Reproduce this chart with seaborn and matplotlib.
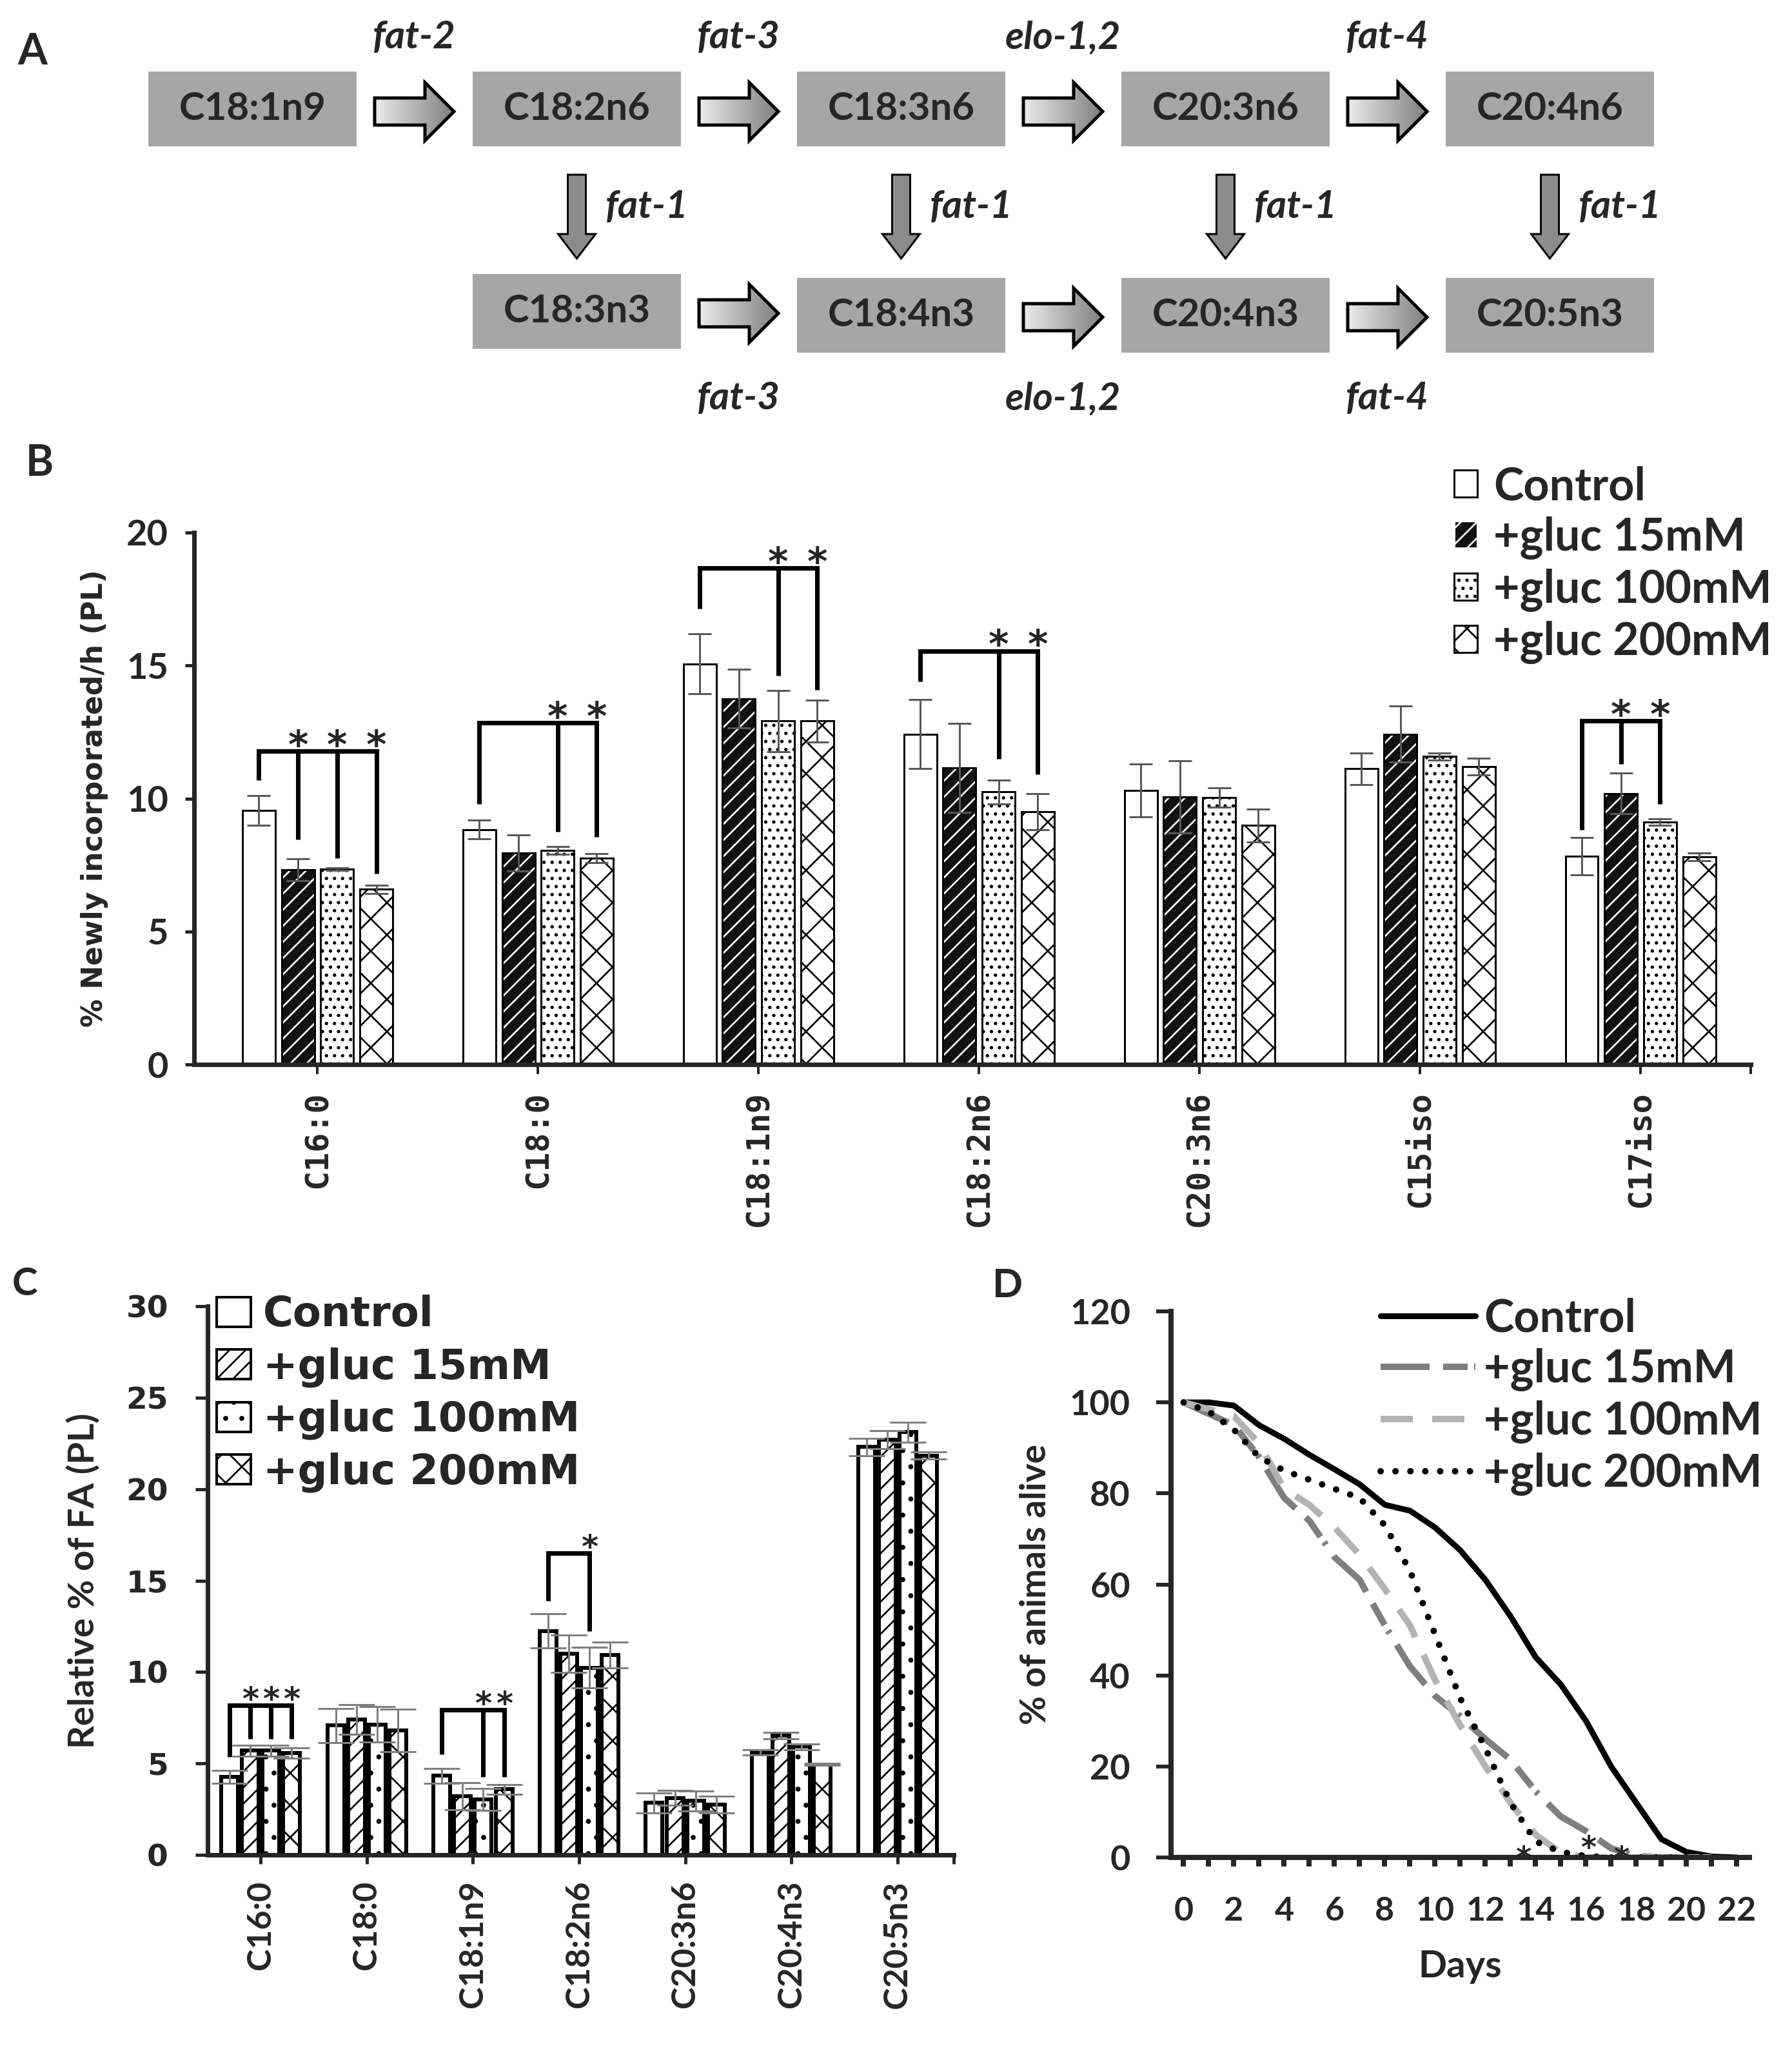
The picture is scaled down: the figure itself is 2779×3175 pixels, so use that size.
import numpy as np
import pandas as pd
import matplotlib
matplotlib.use('Agg')
import matplotlib.pyplot as plt
import seaborn as sns
from matplotlib.patches import Rectangle, Polygon, Patch
from matplotlib.lines import Line2D
from matplotlib.transforms import offset_copy

# ---------------- data ----------------
# Panel A: pathway
omega6 = ['C18:1n9', 'C18:2n6', 'C18:3n6', 'C20:3n6', 'C20:4n6']
omega3 = ['C18:3n3', 'C18:4n3', 'C20:4n3', 'C20:5n3']
enz_top = ['fat-2', 'fat-3', 'elo-1,2', 'fat-4']
enz_bottom = ['fat-3', 'elo-1,2', 'fat-4']
enz_down = 'fat-1'

conditions = ['Control', '+gluc 15mM', '+gluc 100mM', '+gluc 200mM']

# Panel B: newly incorporated FA
fa_b = ['C16:0', 'C18:0', 'C18:1n9', 'C18:2n6', 'C20:3n6', 'C15iso', 'C17iso']
b_control = [9.55, 8.83, 15.06, 12.42, 10.3, 11.12, 7.83]
b_15 = [7.32, 7.95, 13.75, 11.15, 10.07, 12.42, 10.19]
b_100 = [7.34, 8.05, 12.91, 10.25, 10.04, 11.58, 9.11]
b_200 = [6.59, 7.75, 12.91, 9.5, 8.99, 11.2, 7.8]
b_control_err = [0.55, 0.35, 1.13, 1.3, 1.0, 0.6, 0.7]
b_15_err = [0.42, 0.68, 1.1, 1.67, 1.36, 1.05, 0.76]
b_100_err = [0.05, 0.14, 1.15, 0.45, 0.37, 0.13, 0.12]
b_200_err = [0.16, 0.17, 0.78, 0.67, 0.62, 0.32, 0.15]
# significance brackets: which FA, which conditions vs control, bracket height, drop ends
b_sig_fa = ['C16:0', 'C18:0', 'C18:1n9', 'C18:2n6', 'C17iso']
b_sig_cond = [[1, 2, 3], [2, 3], [2, 3], [2, 3], [1, 2]]
b_sig_top = [11.77, 12.85, 18.67, 15.55, 12.93]
b_sig_ends = [[10.69, 8.45, 7.75, 7.18], [9.79, 8.76, 8.56], [17.13, 14.63, 14.08],
              [14.4, 11.49, 10.92], [8.83, 11.3, 9.8]]

# Panel C: relative FA composition
fa_c = ['C16:0', 'C18:0', 'C18:1n9', 'C18:2n6', 'C20:3n6', 'C20:4n3', 'C20:5n3']
c_control = [4.27, 7.07, 4.32, 12.25, 2.84, 5.59, 22.3]
c_15 = [5.7, 7.4, 3.22, 11.01, 3.11, 6.52, 22.71]
c_100 = [5.7, 7.13, 3.03, 10.24, 2.95, 5.92, 23.12]
c_200 = [5.56, 6.8, 3.58, 10.93, 2.75, 4.95, 21.83]
c_control_err = [0.35, 0.93, 0.4, 0.93, 0.55, 0.14, 0.47]
c_15_err = [0.3, 0.8, 0.74, 1.02, 0.4, 0.17, 0.5]
c_100_err = [0.3, 0.97, 0.6, 1.1, 0.55, 0.16, 0.55]
c_200_err = [0.28, 1.15, 0.27, 0.69, 0.47, 0.06, 0.19]
c_sig_fa = ['C16:0', 'C18:1n9', 'C18:2n6']
c_sig_cond = [[1, 2, 3], [2, 3], [2]]
c_sig_top = [8.17, 7.93, 16.5]
c_sig_ends = [[5.37, 6.33, 6.33, 6.33], [5.5, 4.27, 4.27], [13.9, 12.25]]

# Panel D: survival
days = list(range(23))
d_control = [100, 100, 99.3, 95, 92, 88.5, 85.3, 82, 77.5, 76.2, 72.5, 67.5, 61, 53, 44, 38, 30, 20, 12, 4, 1.2, 0.2, 0]
d_15 = [100, 97.5, 95, 88, 79, 74, 66, 61, 51, 42, 35.5, 31, 26, 21.5, 14.5, 9, 5.8, 2, 0.3, 0, 0, 0, np.nan]
d_100 = [100, 98.5, 97, 91, 81, 77.5, 72.5, 66.5, 59, 51, 39, 29, 20, 12, 5, 1, 0, 0, 0, 0, 0, 0, np.nan]
d_200 = [100, 98, 94, 88, 85, 83, 81, 79, 73, 63, 49, 35, 24, 12, 3.5, 1.2, 0.3, 0, 0, 0, 0, 0, np.nan]
d_star_day = [13.5, 16.1, 17.4]
d_star_y = [1.4, 3.7, 1.4]

# ---------------- setup ----------------
sns.set_style('ticks')
plt.rcParams['font.family'] = ['Lato', 'DejaVu Sans']
plt.rcParams['font.weight'] = 'bold'
plt.rcParams['axes.labelweight'] = 'bold'
plt.rcParams['hatch.linewidth'] = 1.3

DPI = 150
W, H = 2779, 3175
STAR_FONT = ['DejaVu Sans']


def pt(px):
    # pixel size in the output image -> points
    return px * 72 / DPI


def box(l, t, r, b):
    return [l / W, 1 - b / H, (r - l) / W, (b - t) / H]


def star(ax, x, y, size_px):
    # place an asterisk so that its glyph is centred on (x, y)
    tr = offset_copy(ax.transData, fig=ax.figure, y=-pt(0.56 * size_px), units='points')
    ax.text(x, y, '*', transform=tr, ha='center', va='baseline', fontsize=pt(size_px),
            fontweight='bold', family=STAR_FONT, zorder=5)


fig = plt.figure(figsize=(W / DPI, H / DPI), dpi=DPI)

# ---------------- Panel A ----------------
axA = fig.add_axes([0, 1 - 680 / H, 1, 680 / H])
bw, bh, step, x0 = 323, 116, 503, 230
top_y = 111
bot_y = [425, 431, 431, 431]
grad = np.linspace(0.92, 0.5, 64).reshape(1, -1)


def block_arrow(xs, yc):
    pts = [(xs, yc - 21), (xs + 78, yc - 21), (xs + 78, yc - 45), (xs + 123, yc),
           (xs + 78, yc + 45), (xs + 78, yc + 21), (xs, yc + 21)]
    poly = Polygon(pts, closed=True, fc='none', ec='black', lw=pt(5), zorder=3)
    axA.add_patch(poly)
    im = axA.imshow(grad, cmap='gray', vmin=0, vmax=1, aspect='auto',
                    extent=[xs, xs + 123, yc + 45, yc - 45], zorder=2)
    im.set_clip_path(poly)


for i, name in enumerate(omega6):
    axA.add_patch(Rectangle((x0 + i * step, top_y), bw, bh, fc='#a6a6a6', ec='none'))
    axA.text(x0 + i * step + bw / 2, top_y + bh / 2, name, ha='center', va='center',
             fontsize=pt(60))
for i, name in enumerate(enz_top):
    xs = x0 + i * step + bw + 28
    block_arrow(xs, top_y + bh / 2 + 4)
    axA.text(xs + 61, 58, name, ha='center', va='center', fontsize=pt(60), fontstyle='italic')
for i, name in enumerate(omega3):
    bx = x0 + (i + 1) * step
    axA.add_patch(Rectangle((bx, bot_y[i]), bw, bh, fc='#a6a6a6', ec='none'))
    axA.text(bx + bw / 2, bot_y[i] + bh / 2, name, ha='center', va='center', fontsize=pt(60))
    # down arrow from omega-6 to omega-3
    xc = bx + bw / 2
    pts = [(xc - 14, 271), (xc + 14, 271), (xc + 14, 363), (xc + 29, 363), (xc, 401),
           (xc - 29, 363), (xc - 14, 363)]
    axA.add_patch(Polygon(pts, closed=True, fc='#8c8c8c', ec='black', lw=pt(3)))
    axA.text(xc + 44, 321, enz_down, ha='left', va='center', fontsize=pt(60), fontstyle='italic')
for i, name in enumerate(enz_bottom):
    xs = x0 + (i + 1) * step + bw + 28
    block_arrow(xs, bot_y[i] + bh / 2 + 3)
    axA.text(xs + 61, 618, name, ha='center', va='center', fontsize=pt(60), fontstyle='italic')
axA.set_xlim(0, W)
axA.set_ylim(680, 0)
axA.axis('off')

# ---------------- shared bar helpers ----------------
hatch_b = {'Control': ('white', '', 'black'), '+gluc 15mM': ('#111111', '//', 'white'),
           '+gluc 100mM': ('white', '..', 'black'), '+gluc 200mM': ('white', 'x', 'black')}
hatch_c = {'Control': ('white', '', 'black'), '+gluc 15mM': ('white', '//', 'black'),
           '+gluc 100mM': ('white', '.', 'black'), '+gluc 200mM': ('white', 'x', 'black')}


def bar_panel(ax, fa, vals, errs, width, gap, styles, lw, ecol, elw, cap):
    df = pd.DataFrame({'fa': np.tile(fa, 4), 'cond': np.repeat(conditions, len(fa)),
                       'val': np.concatenate(vals)})
    sns.barplot(data=df, x='fa', y='val', hue='cond', order=fa, hue_order=conditions,
                palette={c: 'white' for c in conditions}, width=width, gap=gap,
                errorbar=None, legend=False, edgecolor='black', linewidth=lw, ax=ax)
    centers = []
    for h, cond in enumerate(conditions):
        fc, hatch, hc = styles[cond]
        cont = ax.containers[h]
        for p in cont:
            p.set_facecolor(fc)
            p.set_hatch(hatch)
            p.set_edgecolor(hc)
            if hc != 'black':
                p.set_linewidth(0)
                ax.add_patch(Rectangle(p.get_xy(), p.get_width(), p.get_height(),
                                       fill=False, ec='black', lw=lw, zorder=p.get_zorder()))
        xs = [p.get_x() + p.get_width() / 2 for p in cont]
        centers.append(xs)
        ax.errorbar(xs, vals[h], yerr=errs[h], fmt='none', ecolor=ecol, elinewidth=elw,
                    capsize=cap, capthick=elw, zorder=4)
    return centers


def sig_brackets(ax, fa, centers, sig_fa, sig_cond, tops, ends, lw, star_gap, star_px):
    for name, conds, top, yend in zip(sig_fa, sig_cond, tops, ends):
        i = fa.index(name)
        xs = [centers[0][i]] + [centers[c][i] for c in conds]
        ax.plot([xs[0], xs[-1]], [top, top], color='black', lw=lw, solid_capstyle='projecting', zorder=5)
        for x, ye in zip(xs, yend):
            ax.plot([x, x], [top, ye], color='black', lw=lw, solid_capstyle='butt', zorder=5)
        for x in xs[1:]:
            star(ax, x, top + star_gap, star_px)


# ---------------- Panel B ----------------
axB = fig.add_axes(box(301, 826, 2715, 1651))
cB = bar_panel(axB, fa_b, [b_control, b_15, b_100, b_200],
               [b_control_err, b_15_err, b_100_err, b_200_err],
               0.71, 0.16, hatch_b, pt(3), '#595959', pt(3), pt(18))
sig_brackets(axB, fa_b, cB, b_sig_fa, b_sig_cond, b_sig_top, b_sig_ends, pt(7), 0.55, 60)
axB.set_ylim(0, 20)
axB.set_yticks([0, 5, 10, 15, 20])
axB.set_xlim(-0.56, 6.5)
axB.set_xticks([6.5], minor=True)
sns.despine(ax=axB)
for s in ['left', 'bottom']:
    axB.spines[s].set_linewidth(pt(7))
axB.tick_params(axis='y', length=pt(14), width=pt(5), pad=pt(26), labelsize=pt(56))
axB.tick_params(axis='x', which='both', length=pt(15), width=pt(4), pad=pt(26), labelsize=pt(50),
                labelrotation=90)
for lbl in axB.get_xticklabels():
    lbl.set_family('DejaVu Sans Mono')
    lbl.set_fontweight('bold')
axB.set_xlabel('')
axB.set_ylabel('% Newly incorporated/h (PL)', fontsize=pt(44), family=['DejaVu Sans'],
               labelpad=pt(28))
legB = [Patch(facecolor=hatch_b[c][0], hatch=hatch_b[c][1], edgecolor=hatch_b[c][2], lw=pt(3))
        for c in conditions]
fig.legend(legB, conditions, loc='upper left', bbox_to_anchor=(2255 / W, 1 - 722 / H),
           frameon=False, prop={'family': ['Lato'], 'weight': 'bold', 'size': pt(70)},
           handlelength=0.52, handleheight=0.55, handletextpad=0.35, labelspacing=0.2,
           borderpad=0, borderaxespad=0)

# ---------------- Panel C ----------------
axC = fig.add_axes(box(322, 2026, 1479, 2877))
cC = bar_panel(axC, fa_c, [c_control, c_15, c_100, c_200],
               [c_control_err, c_15_err, c_100_err, c_200_err],
               0.78, 0.19, hatch_c, pt(6), '#7f7f7f', pt(3), pt(28))
sig_brackets(axC, fa_c, cC, c_sig_fa, c_sig_cond, c_sig_top, c_sig_ends, pt(7), 0.75, 50)
axC.set_ylim(0, 30)
axC.set_yticks(range(0, 31, 5))
axC.set_xlim(-0.5, 6.53)
axC.set_xticks([6.53], minor=True)
sns.despine(ax=axC)
for s in ['left', 'bottom']:
    axC.spines[s].set_linewidth(pt(7))
axC.tick_params(axis='y', length=pt(19), width=pt(5), pad=pt(42), labelsize=pt(47))
axC.tick_params(axis='x', which='both', length=pt(14), width=pt(5), pad=pt(26), labelsize=pt(52),
                labelrotation=90)
for lbl in axC.get_yticklabels():
    lbl.set_family('DejaVu Sans')
    lbl.set_fontweight('bold')
axC.set_xlabel('')
axC.set_ylabel('Relative % of FA (PL)', fontsize=pt(56), labelpad=pt(40))
legC = [Patch(facecolor='white', hatch=hatch_c[c][1], edgecolor='black', lw=pt(4)) for c in conditions]
axC.legend(legC, conditions, loc='upper left', bbox_to_anchor=(336 / W, 1 - 2008 / H),
           bbox_transform=fig.transFigure, frameon=False,
           prop={'family': ['DejaVu Sans'], 'weight': 'bold', 'size': pt(64)},
           handlelength=0.83, handleheight=0.73, handletextpad=0.3, labelspacing=0.3,
           borderpad=0, borderaxespad=0)

# ---------------- Panel D ----------------
axD = fig.add_axes(box(1816, 2034, 2713, 2881))
dfD = pd.DataFrame({'day': np.tile(days, 4), 'cond': np.repeat(conditions, len(days)),
                    'pct': np.concatenate([d_control, d_15, d_100, d_200])})
line_styles = {
    'Control': dict(color='black', linestyle='-', lw=pt(9)),
    '+gluc 15mM': dict(color='#7f7f7f', linestyle=(0, (7.6, 2.1, 3.8, 1.0, 0.5, 2.1)), lw=pt(10)),
    '+gluc 100mM': dict(color='#b3b3b3', linestyle=(0, (5.0, 3.0)), lw=pt(10)),
    '+gluc 200mM': dict(color='black', linestyle=(0, (0.01, 2.3)), lw=pt(10), dash_capstyle='round'),
}
for c in conditions:
    sns.lineplot(data=dfD[dfD['cond'] == c], x='day', y='pct', ax=axD, **line_styles[c])
for x, y in zip(d_star_day, d_star_y):
    star(axD, x, y, 46)
axD.set_xlim(-0.5, 22.5)
axD.set_ylim(0, 120)
axD.set_yticks(range(0, 121, 20))
axD.set_xticks(range(0, 23, 2))
axD.set_xticks(range(0, 23), minor=True)
sns.despine(ax=axD)
for s in ['left', 'bottom']:
    axD.spines[s].set_linewidth(pt(8))
axD.tick_params(axis='y', length=pt(23), width=pt(6), pad=pt(40), labelsize=pt(54))
axD.tick_params(axis='x', which='both', length=pt(14), width=pt(8), pad=pt(46), labelsize=pt(52))
axD.set_xlabel('Days', fontsize=pt(58), labelpad=pt(36))
axD.set_ylabel('% of animals alive', fontsize=pt(55), labelpad=pt(28))
legD = [Line2D([0], [0], **line_styles[c]) for c in conditions]
axD.legend(legD, conditions, loc='upper left', bbox_to_anchor=(2141 / W, 1 - 2012 / H),
           bbox_transform=fig.transFigure, frameon=False,
           prop={'family': ['Lato'], 'weight': 'bold', 'size': pt(70)},
           handlelength=2.1, handletextpad=0.19, labelspacing=0.2, borderpad=0, borderaxespad=0)

# ---------------- panel letters ----------------
for letter, lx, ly, size in [('A', 27, 100, 66), ('B', 40, 738, 66), ('C', 19, 2009, 60), ('D', 1539, 2012, 62)]:
    fig.text(lx / W, 1 - ly / H, letter, ha='left', va='baseline', fontsize=pt(size))

fig.savefig('out.png', dpi=DPI)
